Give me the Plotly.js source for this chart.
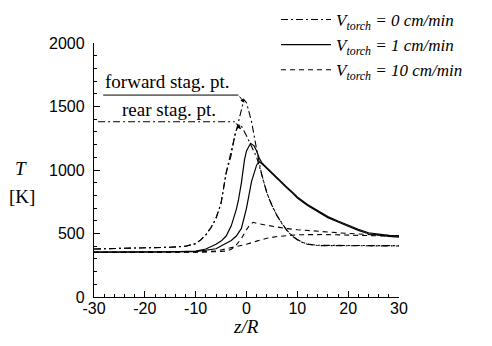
<!DOCTYPE html>
<html>
<head>
<meta charset="utf-8">
<script src="https://cdn.plot.ly/plotly-3.0.1.min.js"></script>
<style>html,body{margin:0;padding:0;background:#fff;}#plot{width:492px;height:346px;}</style>
</head>
<body>
<div id="plot"></div>
<script>
// V_torch = 0 cm/min, forward stagnation point
const v0fX = [-30,-20,-15,-12,-10,-9,-8,-7,-6,-5,-4,-3,-2,-1,-0.5,0,1,2,3,4,5,6,7,8,9,10,11,12,14,20,30];
const v0fT = [378,385,392,400,420,450,490,545,620,740,980,1150,1320,1490,1555,1530,1380,1160,960,820,720,640,575,520,480,450,430,415,405,402,402];
// V_torch = 0 cm/min, rear stagnation point
const v0rX = [-30,-20,-15,-12,-10,-9,-8,-7,-6,-5,-4,-3,-2.2,-1.4,-1,0,1,2,3,4,5,6,7,8,9,10,11,12,14,20,30];
const v0rT = [378,385,392,400,420,450,490,545,620,740,975,1120,1300,1360,1345,1270,1180,1100,965,822,722,642,577,522,482,452,432,417,407,404,404];
// V_torch = 1 cm/min, forward
const v1fX = [-30,-15,-10,-8,-6,-5,-4,-3,-2,-1.6,-1,-0.4,0,0.8,1.5,2,2.5,3,4,5,6,7,8,9,10,12,14,16,18,20,22,24,26,28,30];
const v1fT = [354,355,362,378,415,440,480,560,690,760,900,1079,1150,1210,1190,1150,1095,1058,1018,978,938,898,863,828,788,728,678,633,598,563,533,506,495,486,480];
// V_torch = 1 cm/min, rear
const v1rX = [-30,-15,-10,-6,-4,-3,-2,-1,0,1,2,2.5,3,4,5,6,7,8,9,10,12,14,16,18,20,22,24,26,28,30];
const v1rT = [353,354,358,380,420,445,480,540,700,910,1040,1065,1050,1010,970,930,890,855,820,780,720,670,625,590,555,525,498,487,478,472];
// V_torch = 10 cm/min, forward
const v10fX = [-30,-10,-6,-4,-3,-2,-1,0,0.5,1.3,2,4,6,8,10,15,20,25,30];
const v10fT = [351,353,356,362,375,410,460,530,560,588,580,565,550,538,530,513,500,490,482];
// V_torch = 10 cm/min, rear
const v10rX = [-30,-10,-6,-5,-4,-2,0,2,4,6,8,10,15,20,25,30];
const v10rT = [351,352,362,370,378,395,415,440,462,476,485,490,492,488,484,478];

const legendNames = [
  '<i>V<sub>torch</sub> = 0 cm/min</i>',
  '<i>V<sub>torch</sub> = 1 cm/min</i>',
  '<i>V<sub>torch</sub> = 10 cm/min</i>'
];

// leader lines of the stagnation point labels: [x0, x1(bend), tipX], [y level, tipY]
const fwdLeaderX = [-28.2, -1.6, -0.4];
const fwdLeaderT = [1590, 1590, 1530];
const rearLeaderX = [-29.2, -2.3, -1.1];
const rearLeaderT = [1380, 1380, 1320];

const dashDot = '7px,3px,2px,3px';
const dashed = '5px,4px';

function tr(x, y, dash, name, show, group, w) {
  return {x: x, y: y, type: 'scatter', mode: 'lines', name: name, showlegend: show,
    legendgroup: group, line: {color: '#000', width: w || 1.1, dash: dash}, hoverinfo: 'skip'};
}

const data = [
  tr(v0fX, v0fT, dashDot, legendNames[0], true, 'a'),
  tr(v0rX, v0rT, dashDot, legendNames[0], false, 'a'),
  tr(v1fX, v1fT, 'solid', legendNames[1], true, 'b', 1.2),
  tr(v1rX, v1rT, 'solid', legendNames[1], false, 'b', 1.2),
  tr(v10fX, v10fT, dashed, legendNames[2], true, 'c'),
  tr(v10rX, v10rT, dashed, legendNames[2], false, 'c')
];

const serif = 'Liberation Serif, Times New Roman, serif';
const sans = 'Liberation Sans, Arial, Helvetica, sans-serif';

const L = 94, R = 93, T = 43, B = 49;
const pw = 492 - L - R, ph = 346 - T - B;
const px = v => (v - L) / pw;          // pixel x -> paper
const py = v => (346 - B - v) / ph;    // pixel y -> paper

const layout = {
  width: 492, height: 346,
  margin: {l: L, r: R, t: T, b: B, autoexpand: false},
  paper_bgcolor: '#fff', plot_bgcolor: '#fff',
  showlegend: true,
  legend: {x: px(276), y: py(2), xanchor: 'left', yanchor: 'top', bgcolor: 'rgba(0,0,0,0)',
    font: {family: serif, size: 17, color: '#000'}, tracegroupgap: 0, itemwidth: 50},
  xaxis: {range: [-30, 30], tickvals: [-30,-20,-10,0,10,20,30], ticktext: ['-30','-20','-10','0','10','20','30'],
    ticks: 'inside', ticklen: 6, tickwidth: 1, tickcolor: '#000',
    minor: {dtick: 2, ticks: 'inside', ticklen: 3, tickcolor: '#000', showgrid: false},
    showline: true, linecolor: '#000', linewidth: 1.2, showgrid: false, zeroline: false,
    tickfont: {family: sans, size: 16, color: '#000'}, ticklabelstandoff: -3},
  yaxis: {range: [0, 2000], tickvals: [0,500,1000,1500,2000],
    ticks: 'inside', ticklen: 6, tickwidth: 1, tickcolor: '#000',
    minor: {dtick: 100, ticks: 'inside', ticklen: 3, tickcolor: '#000', showgrid: false},
    showline: true, linecolor: '#000', linewidth: 1.2, showgrid: false, zeroline: false,
    tickfont: {family: sans, size: 16, color: '#000'}, ticklabelstandoff: 5},
  shapes: [
    {type: 'line', xref: 'x', yref: 'y', x0: fwdLeaderX[0], x1: fwdLeaderX[1], y0: fwdLeaderT[0], y1: fwdLeaderT[1], line: {color: '#000', width: 1}},
    {type: 'line', xref: 'x', yref: 'y', x0: rearLeaderX[0], x1: rearLeaderX[1], y0: rearLeaderT[0], y1: rearLeaderT[1], line: {color: '#000', width: 1, dash: dashDot}}
  ],
  annotations: [
    {x: -15.6, y: 1700, xref: 'x', yref: 'y', text: 'forward stag. pt.', showarrow: false,
      font: {family: serif, size: 19, color: '#000'}},
    {x: -15.3, y: 1478, xref: 'x', yref: 'y', text: 'rear stag. pt.', showarrow: false,
      font: {family: serif, size: 19, color: '#000'}},
    {x: fwdLeaderX[2], y: fwdLeaderT[2], ax: fwdLeaderX[1], ay: fwdLeaderT[1], xref: 'x', yref: 'y', axref: 'x', ayref: 'y',
      text: '', showarrow: true, arrowhead: 2, arrowsize: 0.8, arrowwidth: 1, arrowcolor: '#000', standoff: 0},
    {x: rearLeaderX[2], y: rearLeaderT[2], ax: rearLeaderX[1], ay: rearLeaderT[1], xref: 'x', yref: 'y', axref: 'x', ayref: 'y',
      text: '', showarrow: true, arrowhead: 2, arrowsize: 0.8, arrowwidth: 1, arrowcolor: '#000', standoff: 0},
    {x: px(246), y: py(326), xref: 'paper', yref: 'paper', xanchor: 'center', yanchor: 'middle', text: '<i>z/R</i>', showarrow: false,
      font: {family: serif, size: 19, color: '#000'}},
    {x: px(21), y: py(168), xref: 'paper', yref: 'paper', xanchor: 'center', yanchor: 'middle', text: '<i>T</i>', showarrow: false,
      font: {family: serif, size: 19, color: '#000'}},
    {x: px(22), y: py(196), xref: 'paper', yref: 'paper', xanchor: 'center', yanchor: 'middle', text: '[K]', showarrow: false,
      font: {family: serif, size: 19, color: '#000'}}
  ]
};

Plotly.newPlot('plot', data, layout, {displayModeBar: false, staticPlot: true});
</script>
</body>
</html>
